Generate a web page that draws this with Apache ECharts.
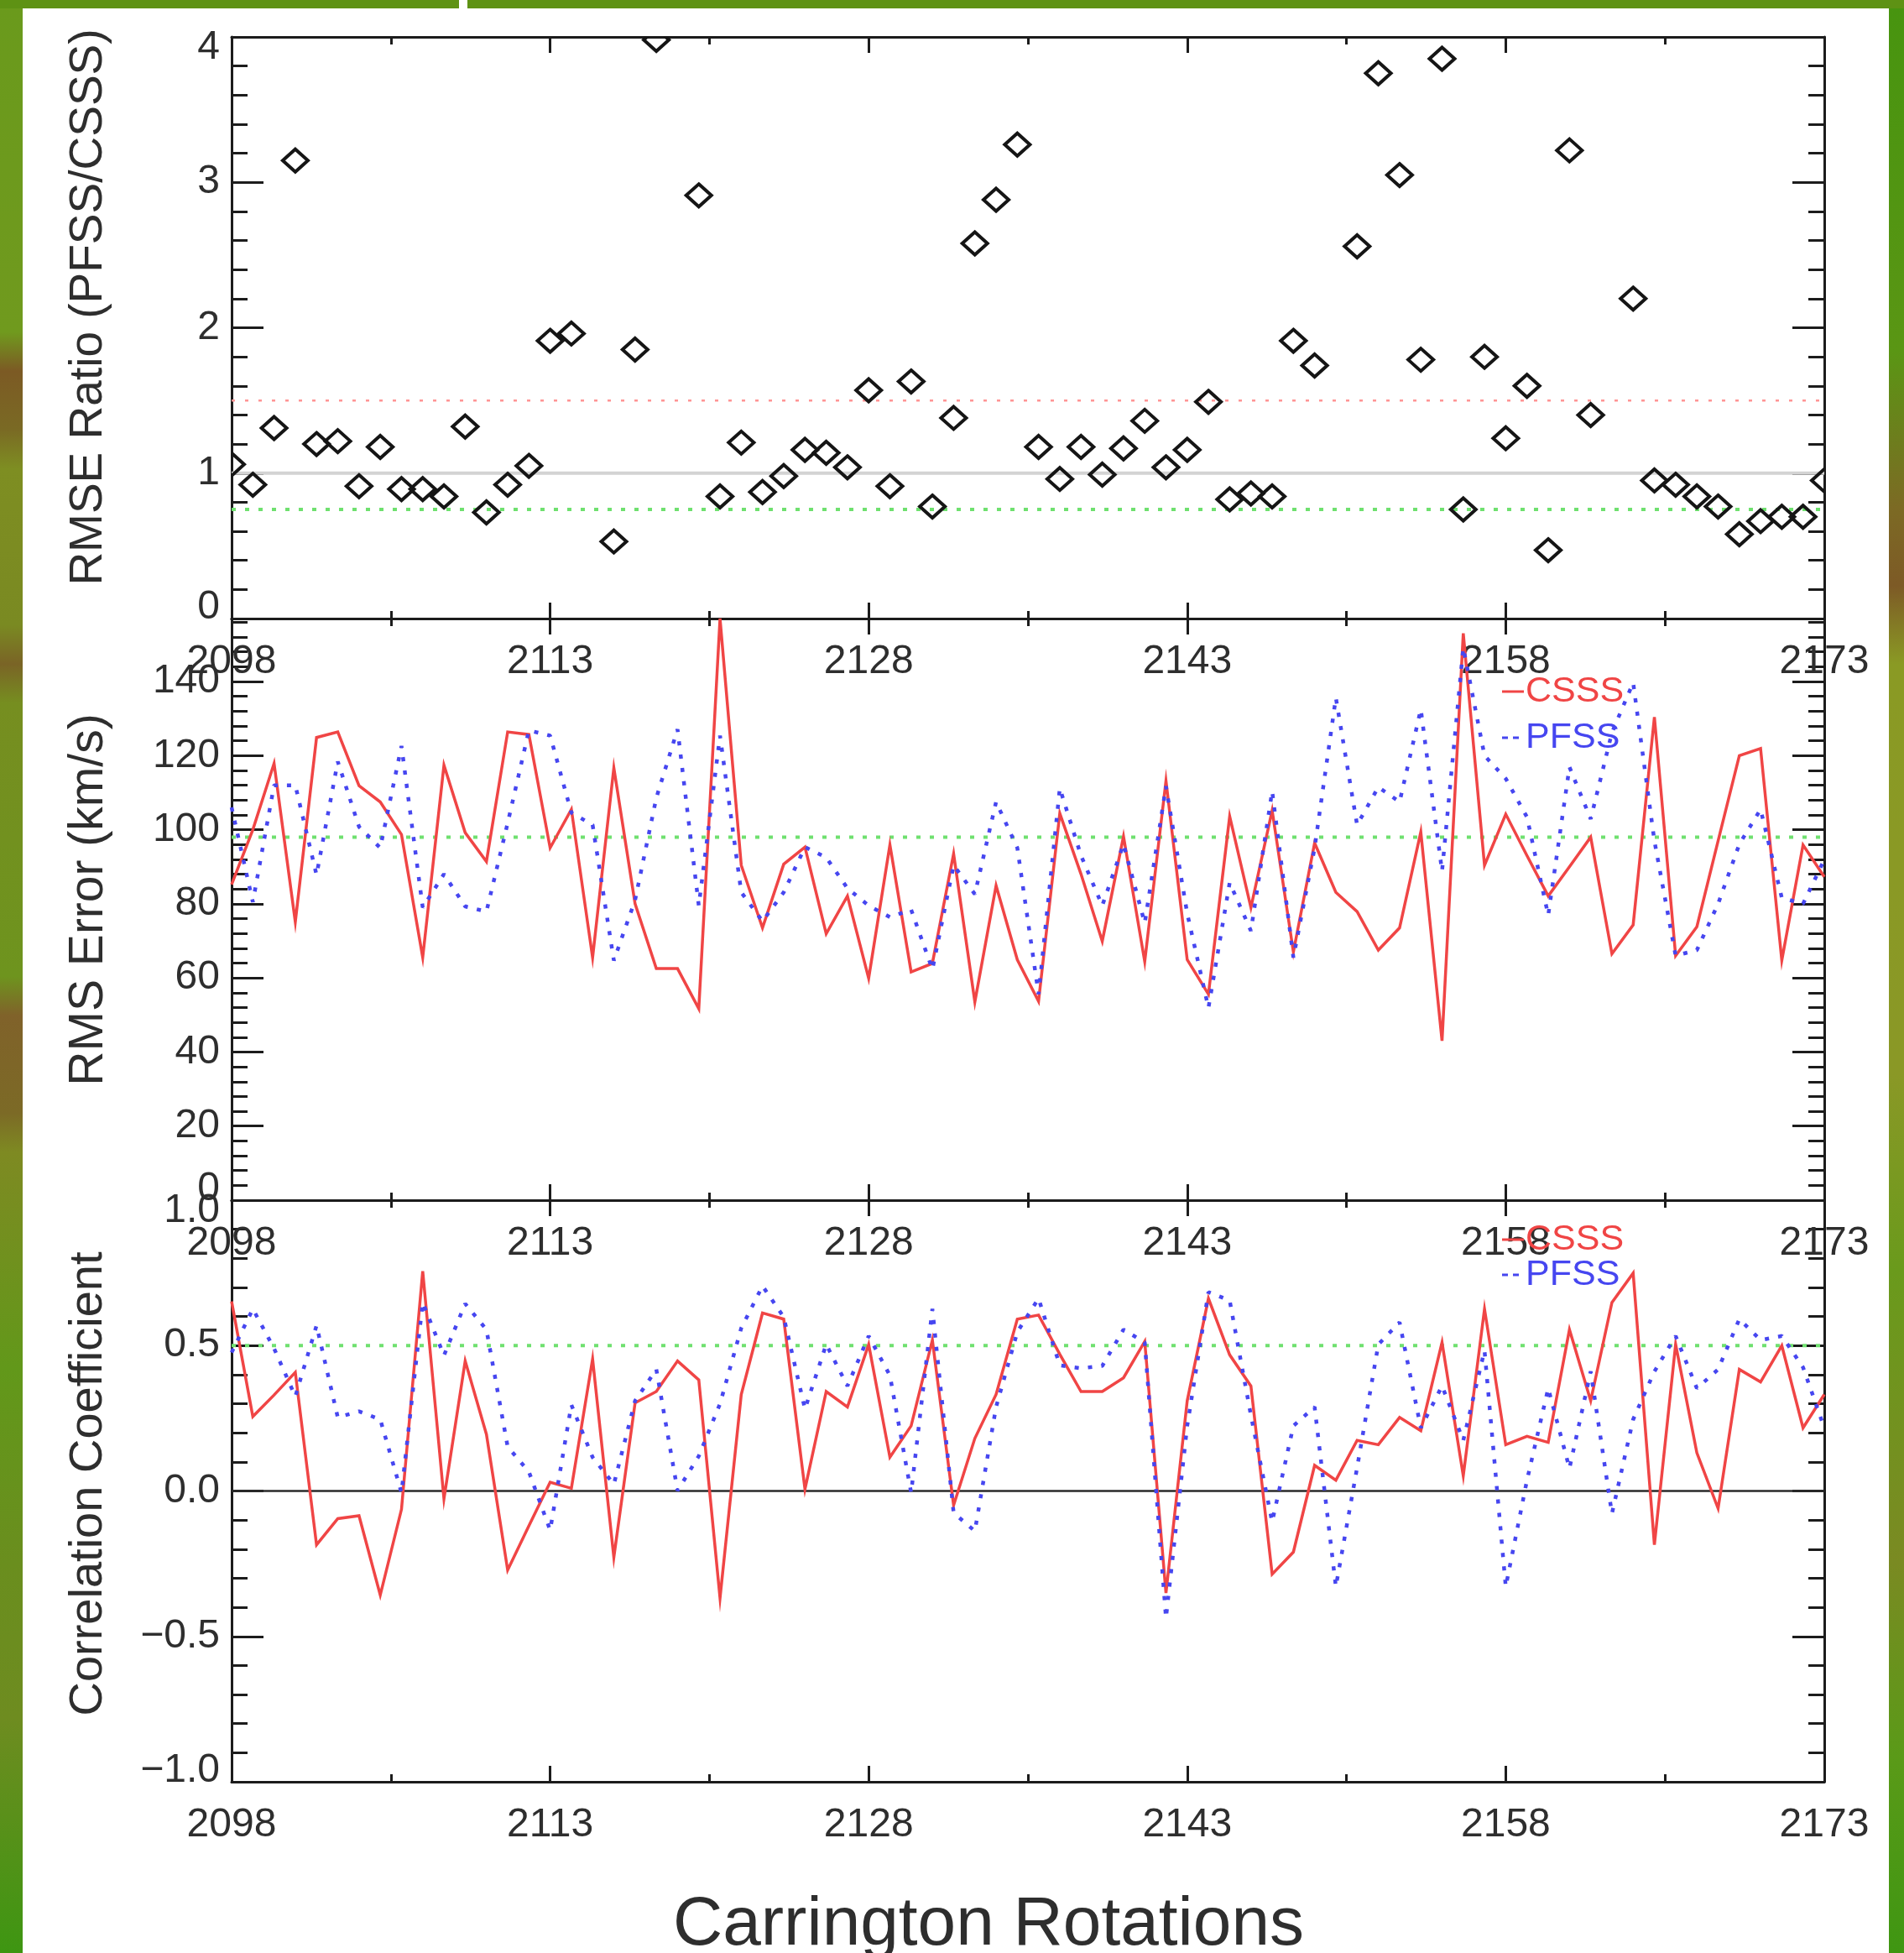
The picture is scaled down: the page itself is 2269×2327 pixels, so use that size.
<!DOCTYPE html>
<html>
<head>
<meta charset="utf-8">
<title>Carrington Rotations – CSSS vs PFSS</title>
<script src="https://cdn.jsdelivr.net/npm/echarts@6/dist/echarts.min.js"></script>
<style>
  html, body { margin: 0; padding: 0; background: #ffffff; }
  #chart { width: 2269px; height: 2327px; }
</style>
</head>
<body>
<div id="chart"></div>
<script>
// Carrington rotation numbers
const rotations = [
  2098, 2099, 2100, 2101, 2102, 2103, 2104, 2105, 2106, 2107, 2108, 2109, 2110, 2111, 2112,
  2113, 2114, 2115, 2116, 2117, 2118, 2119, 2120, 2121, 2122, 2123, 2124, 2125, 2126, 2127,
  2128, 2129, 2130, 2131, 2132, 2133, 2134, 2135, 2136, 2137, 2138, 2139, 2140, 2141, 2142,
  2143, 2144, 2145, 2146, 2147, 2148, 2149, 2150, 2151, 2152, 2153, 2154, 2155, 2156, 2157,
  2158, 2159, 2160, 2161, 2162, 2163, 2164, 2165, 2166, 2167, 2168, 2169, 2170, 2171, 2172,
  2173
];

// RMSE ratio PFSS/CSSS (null = off the 0–4 scale)
const rmseRatio = [
  1.06, 0.92, 1.31, 3.15, 1.20, 1.22, 0.91, 1.18, 0.89, 0.89, 0.84, 1.32, 0.73, 0.92, 1.05,
  1.91, 1.96, null, 0.53, 1.85, 3.98, null, 2.91, 0.84, 1.21, 0.87, 0.98, 1.16, 1.14, 1.04,
  1.57, 0.91, 1.63, 0.77, 1.38, 2.58, 2.88, 3.26, 1.18, 0.96, 1.18, 0.99, 1.17, 1.36, 1.04,
  1.16, 1.49, 0.82, 0.86, 0.84, 1.91, 1.74, null, 2.56, 3.75, 3.05, 1.78, 3.85, 0.75, 1.80,
  1.24, 1.60, 0.47, 3.22, 1.40, null, 2.20, 0.95, 0.92, 0.84, 0.77, 0.58, 0.67, 0.70, 0.70,
  0.95
];

// RMS speed error (km/s)
const rmsCSSS = [
  85.2, 100, 117.9, 75.1, 124.9, 126.4, 111.9, 107.5, 98.7, 65.5, 117.4, 99.2, 91.4, 126.4, 125.7,
  95.1, 105.5, 65.5, 116.7, 80.0, 62.5, 62.5, 51.7, 157, 90.4, 73.5, 90.7, 95.3, 71.9, 82.1,
  59.9, 95.9, 61.6, 63.9, 93.5, 53.5, 84.9, 64.9, 53.7, 104.4, 88, 69.9, 98.2, 64.4, 113.2,
  64.9, 55.6, 103.6, 79.0, 105.2, 67.0, 96.4, 83.1, 77.9, 67.5, 73.5, 99.4, 43, 153, 90.4,
  104.2, 93, 82.1, 90, 98.0, 66.5, 74.3, 130.4, 66.0, 73.8, 97, 120.0, 121.9, 64.7, 95.9,
  87.3
];
const rmsPFSS = [
  106, 80.5, 112, 112, 87.8, 118.4, 100.8, 95.1, 122.6, 79.0, 88.0, 79.3, 77.9, 101.8, 126.8,
  125.4, 104.6, 101.3, 64.7, 81, 108.6, 127.1, 79.5, 125.4, 83.1, 75.3, 83.1, 95.3, 92.5, 84.2,
  79.5, 76.4, 78.4, 62.3, 90.4, 82.6, 107.5, 95.1, 55.6, 111.2, 93.0, 79.5, 96.1, 74.8, 111.7,
  77.4, 51.9, 85.7, 72.7, 110.4, 65.5, 95.1, 135.6, 101.3, 111.5, 107.5, 132.5, 88.8, 149.1, 120.0,
  113.8, 103.4, 76.9, 116.9, 102.9, 126.2, 139.7, 97, 66.0, 67.5, 80.0, 96.1, 105.5, 81.6, 80.0,
  91.9
];

// Correlation coefficient
const corrCSSS = [
  0.652, 0.256, 0.33, 0.408, -0.185, -0.095, -0.085, -0.358, -0.063, 0.756, -0.027, 0.447, 0.195, -0.272, -0.12,
  0.030, 0.009, 0.454, -0.228, 0.303, 0.342, 0.447, 0.382, -0.368, 0.332, 0.612, 0.591, 0.006, 0.342, 0.289,
  0.504, 0.116, 0.224, 0.519, -0.049, 0.181, 0.332, 0.591, 0.605, 0.47, 0.342, 0.342, 0.389, 0.514, -0.351,
  0.31, 0.662, 0.468, 0.361, -0.286, -0.21, 0.088, 0.037, 0.174, 0.159, 0.253, 0.207, 0.511, 0.052, 0.626,
  0.159, 0.188, 0.167, 0.555, 0.31, 0.648, 0.749, -0.185, 0.504, 0.131, -0.06, 0.418, 0.375, 0.5, 0.217,
  0.332
];
const corrPFSS = [
  0.476, 0.626, 0.49, 0.325, 0.569, 0.253, 0.274, 0.246, -0.006, 0.648, 0.466, 0.644, 0.555, 0.152, 0.066,
  -0.135, 0.296, 0.116, 0.023, 0.31, 0.418, 0.001, 0.12, 0.30, 0.56, 0.705, 0.598, 0.282, 0.504, 0.361,
  0.533, 0.397, -0.006, 0.626, -0.075, -0.138, 0.289, 0.547, 0.662, 0.432, 0.422, 0.43, 0.555, 0.511, -0.437,
  0.224, 0.684, 0.655, 0.26, -0.106, 0.224, 0.289, -0.329, 0.080, 0.504, 0.580, 0.217, 0.361, 0.174, 0.483,
  -0.329, 0.037, 0.353, 0.078, 0.411, -0.078, 0.246, 0.411, 0.533, 0.353, 0.418, 0.591, 0.519, 0.533, 0.425,
  0.217
];

// Horizontal guide levels
const ratioUnity = 1;
const ratioUpper = 1.5;
const ratioLower = 0.75;
const rmsGuide = 98;
const corrZero = 0;
const corrGuide = 0.5;

// ---------------------------------------------------------------------------
const FONT = '"Liberation Sans", Arial, Helvetica, sans-serif';
const INK = '#1c1c1c';
const TEXT = '#2e2e2e';
const RED = '#f04545';
const BLUE = '#4646f0';
const GREEN = '#6fe06f';
const LABEL_SIZE = 48;

const first = rotations[0];
const span = rotations[rotations.length - 1] - first;
const toPairs = vals => rotations.map((r, i) => [r - first, vals[i]]);

const GRID_LEFT = 276, GRID_WIDTH = 1898, GRID_HEIGHT = 693;
const panels = [
  { top: 44, yMin: 0, yMax: 4, yStep: 1, yMinor: 5, fmt: v => String(v) },
  { top: 737, yMin: 0, yMax: Math.max(...rmsCSSS), yStep: 20, yMinorStep: 4,
    fmt: v => (v % 20 === 0 ? String(v) : '') },
  { top: 1430, yMin: -1, yMax: 1, yStep: 0.5, yMinor: 5,
    fmt: v => v.toFixed(1).replace('-', '\u2212') }
];

const grids = panels.map(p => ({
  left: GRID_LEFT, width: GRID_WIDTH, top: p.top, height: GRID_HEIGHT,
  containLabel: false, outerBoundsMode: 'none', show: false
}));

// end labels of each value axis sit just inside the panel edge
const labelFont = { fontSize: LABEL_SIZE, fontFamily: FONT, color: TEXT };
const edgeRich = {
  lo: Object.assign({ padding: [0, 0, 26, 0] }, labelFont),
  hi: Object.assign({ padding: [26, 0, 0, 0] }, labelFont)
};

const tickLine = { color: INK, width: 3 };
const xAxes = [];
const yAxes = [];
panels.forEach((p, g) => {
  const xBase = {
    type: 'value', gridIndex: g, min: 0, max: span, interval: 15,
    splitLine: { show: false },
    axisLine: { show: true, onZero: false, lineStyle: tickLine },
    axisTick: { show: true, inside: true, length: 19, lineStyle: tickLine },
    minorTick: { show: true, splitNumber: 2, length: 9, lineStyle: tickLine }
  };
  p.xIndex = xAxes.length;
  xAxes.push(Object.assign({}, xBase, {
    position: 'bottom',
    axisLabel: Object.assign({
      show: true, margin: 28, showMinLabel: true, showMaxLabel: true,
      formatter: v => String(v + first)
    }, labelFont)
  }));
  xAxes.push(Object.assign({}, xBase, { position: 'top', axisLabel: { show: false } }));

  const yBase = {
    type: 'value', gridIndex: g, min: p.yMin, max: p.yMax, interval: p.yStep,
    splitLine: { show: false },
    axisLine: { show: true, onZero: false, lineStyle: tickLine },
    axisTick: { show: true, inside: true, length: 38, lineStyle: tickLine },
    minorTick: { show: !!p.yMinor, splitNumber: p.yMinor || 5, length: 19, lineStyle: tickLine }
  };
  p.yIndex = yAxes.length;
  yAxes.push(Object.assign({}, yBase, {
    position: 'left',
    axisLabel: Object.assign({
      show: true, margin: 14, showMinLabel: true, showMaxLabel: true, rich: edgeRich,
      formatter: v => {
        const s = p.fmt(v);
        if (!s) return '';
        if (v === p.yMin) return '{lo|' + s + '}';
        if (v === p.yMax) return '{hi|' + s + '}';
        return s;
      }
    }, labelFont)
  }));
  yAxes.push(Object.assign({}, yBase, { position: 'right', axisLabel: { show: false } }));
  if (p.yMinorStep) {
    // finer tick marks on their own axis so they keep an even step up to the top edge
    const fine = Object.assign({}, yBase, {
      interval: p.yMinorStep,
      axisLine: { show: false, onZero: false },
      axisTick: { show: true, inside: true, length: 19, lineStyle: tickLine },
      minorTick: { show: false },
      axisLabel: { show: false }
    });
    yAxes.push(Object.assign({}, fine, { position: 'left' }));
    yAxes.push(Object.assign({}, fine, { position: 'right' }));
  }
});

function guide(panel, value, color, width, type, z) {
  const p = panels[panel];
  return {
    type: 'line', xAxisIndex: p.xIndex, yAxisIndex: p.yIndex,
    data: [[0, value], [span, value]],
    showSymbol: false, symbol: 'none', silent: true, z: z || 1,
    lineStyle: { color: color, width: width, type: type, cap: 'butt' }
  };
}

function curve(panel, values, color, dotted) {
  const p = panels[panel];
  return {
    type: 'line', xAxisIndex: p.xIndex, yAxisIndex: p.yIndex,
    data: toPairs(values), showSymbol: false, symbol: 'none', silent: true,
    z: dotted ? 4 : 3, clip: true,
    lineStyle: dotted
      ? { color: color, width: 4.5, type: [5, 11], cap: 'butt' }
      : { color: color, width: 3.5, type: 'solid', join: 'miter' }
  };
}

const series = [
  guide(0, ratioUnity, '#d3d3d3', 4, 'solid'),
  guide(0, ratioUpper, '#ff9494', 2.5, [4, 12]),
  guide(0, ratioLower, GREEN, 4, [5, 11]),
  {
    type: 'custom', xAxisIndex: panels[0].xIndex, yAxisIndex: panels[0].yIndex,
    clip: true, silent: true, z: 5,
    data: toPairs(rmseRatio).filter(d => d[1] !== null),
    renderItem: (params, api) => {
      const c = api.coord([api.value(0), api.value(1)]);
      const rx = 15, ry = 13.5;
      return {
        type: 'polygon',
        shape: { points: [[c[0], c[1] - ry], [c[0] + rx, c[1]], [c[0], c[1] + ry], [c[0] - rx, c[1]]] },
        style: { fill: 'none', stroke: '#151515', lineWidth: 4 }
      };
    }
  },
  guide(1, rmsGuide, GREEN, 4, [5, 11]),
  curve(1, rmsCSSS, RED, false),
  curve(1, rmsPFSS, BLUE, true),
  guide(2, corrZero, '#2a2a2a', 2.5, 'solid'),
  guide(2, corrGuide, GREEN, 4, [5, 11]),
  curve(2, corrCSSS, RED, false),
  curve(2, corrPFSS, BLUE, true)
];

// outer coloured frame
const leftFrame = new echarts.graphic.LinearGradient(0, 0, 0, 1, [
  { offset: 0.00, color: '#6a9a1c' }, { offset: 0.17, color: '#709a1e' },
  { offset: 0.19, color: '#7c5a24' }, { offset: 0.22, color: '#7a6a24' },
  { offset: 0.24, color: '#7e8e22' }, { offset: 0.32, color: '#7a8a22' },
  { offset: 0.34, color: '#7a6426' }, { offset: 0.36, color: '#768e20' },
  { offset: 0.50, color: '#6e941e' }, { offset: 0.52, color: '#80622a' },
  { offset: 0.57, color: '#7c6a26' }, { offset: 0.59, color: '#7e8a22' },
  { offset: 0.70, color: '#62981a' }, { offset: 0.80, color: '#6a8e1e' },
  { offset: 0.88, color: '#6e8c20' }, { offset: 1.00, color: '#3e9612' }
]);
const rightFrame = new echarts.graphic.LinearGradient(0, 0, 0, 1, [
  { offset: 0.00, color: '#47940f' }, { offset: 0.18, color: '#5a9614' },
  { offset: 0.26, color: '#7c6a24' }, { offset: 0.30, color: '#7d5a26' },
  { offset: 0.34, color: '#8a9a24' }, { offset: 0.55, color: '#8a9826' },
  { offset: 0.65, color: '#6a9a1c' }, { offset: 0.80, color: '#7a8a22' },
  { offset: 0.90, color: '#5a9a18' }, { offset: 1.00, color: '#3f9612' }
]);

function legendEntry(x, y, label, color, dashed) {
  return [
    {
      type: 'line', shape: { x1: x, y1: y, x2: x + 26, y2: y },
      style: { stroke: color, lineWidth: 3, lineDash: dashed ? [7, 6] : null }, z: 20
    },
    {
      type: 'text', x: x + 28, y: y, z: 20,
      style: {
        text: label, fontSize: 43, fontFamily: FONT, fill: color,
        textAlign: 'left', textVerticalAlign: 'middle', align: 'left', verticalAlign: 'middle'
      }
    }
  ];
}

function title(x, y, text, size, rotated) {
  return {
    type: 'text', x: x, y: y, rotation: rotated ? Math.PI / 2 : 0, z: 20,
    style: {
      text: text, fontSize: size, fontFamily: FONT, fill: TEXT,
      textAlign: 'center', textVerticalAlign: 'middle', align: 'center', verticalAlign: 'middle'
    }
  };
}

const graphic = [
  { type: 'rect', shape: { x: 0, y: 0, width: 27, height: 2327 }, style: { fill: leftFrame }, z: 0 },
  { type: 'rect', shape: { x: 2251, y: 0, width: 18, height: 2327 }, style: { fill: rightFrame }, z: 0 },
  { type: 'rect', shape: { x: 0, y: 0, width: 2269, height: 10 }, style: { fill: '#5e9214' }, z: 0 },
  { type: 'rect', shape: { x: 547, y: 0, width: 10, height: 10 }, style: { fill: '#ffffff' }, z: 1 },
  title(106, 366, 'RMSE Ratio (PFSS/CSSS)', 55, true),
  title(106, 1072, 'RMS Error (km/s)', 57, true),
  title(106, 1768, 'Correlation Coefficient', 56, true),
  title(1178, 2294, 'Carrington Rotations', 82, false)
]
  .concat(legendEntry(1790, 824, 'CSSS', RED, false))
  .concat(legendEntry(1790, 879, 'PFSS', BLUE, true))
  .concat(legendEntry(1790, 1477, 'CSSS', RED, false))
  .concat(legendEntry(1790, 1519, 'PFSS', BLUE, true));

const chart = echarts.init(document.getElementById('chart'), null, { renderer: 'canvas', width: 2269, height: 2327 });
chart.setOption({
  backgroundColor: '#ffffff',
  animation: false,
  grid: grids,
  xAxis: xAxes,
  yAxis: yAxes,
  series: series,
  graphic: graphic
});
</script>
</body>
</html>
